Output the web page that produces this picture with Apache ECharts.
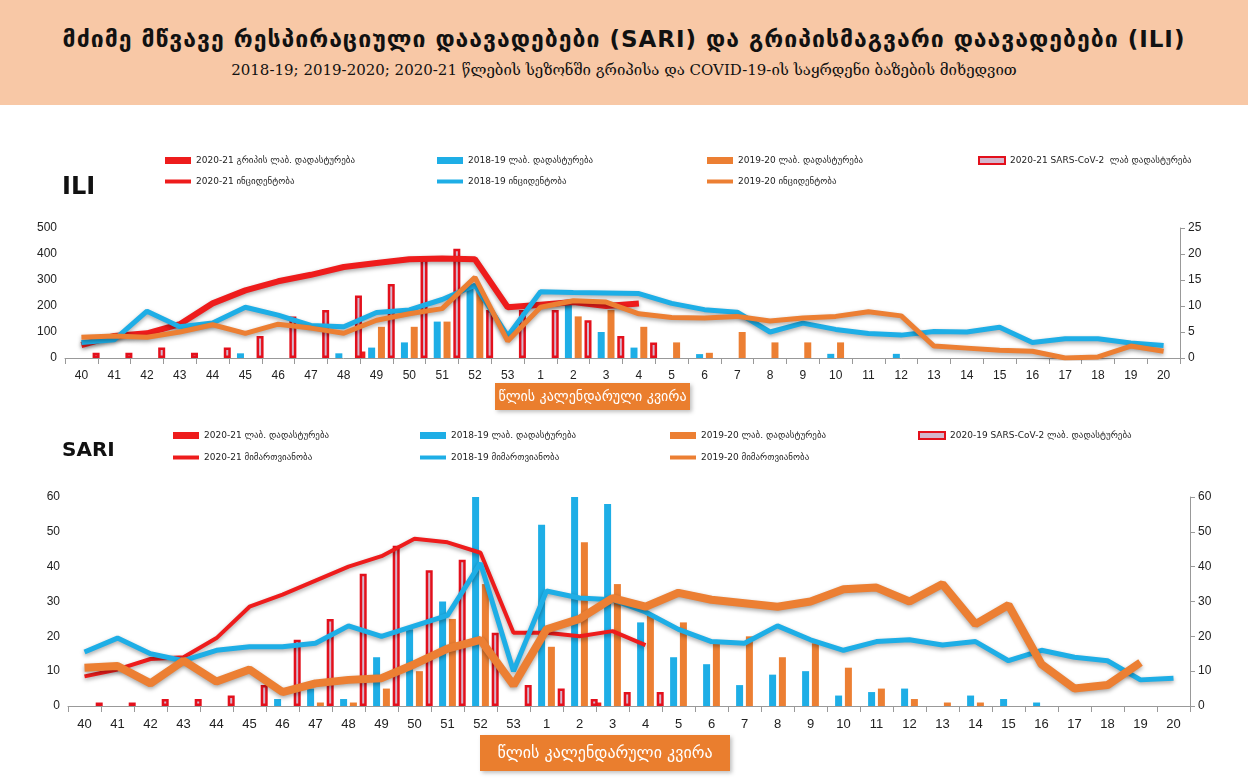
<!DOCTYPE html>
<html lang="ka">
<head>
<meta charset="UTF-8">
<title>ILI / SARI</title>
<script src="https://cdn.jsdelivr.net/npm/echarts@6/dist/echarts.min.js"></script>
<style>
  body{margin:0;width:1248px;height:779px;background:#fff;font-family:"DejaVu Sans",sans-serif;position:relative;overflow:hidden}
  #head{position:absolute;left:0;top:0;width:1248px;height:105px;background:#f8c8a6;text-align:center}
  #head h1{margin:0;padding-top:26px;font-size:23px;font-weight:bold;letter-spacing:1px;color:#111}
  #head p{margin:9px 0 0 0;font-size:15px;color:#111;font-family:"DejaVu Serif",serif}
  .tag{position:absolute;font-weight:bold;font-size:24px;color:#111}
  .box{position:absolute;background:#ea7e2e;color:#fff;text-align:center;font-size:14px;box-shadow:2px 2px 4px rgba(0,0,0,.25)}
</style>
</head>
<body>
<div id="head">
  <h1>მძიმე მწვავე რესპირაციული დაავადებები (SARI) და გრიპისმაგვარი დაავადებები (ILI)</h1>
  <p>2018-19; 2019-2020; 2020-21 წლების სეზონში გრიპისა და COVID-19-ის საყრდენი ბაზების მიხედვით</p>
</div>
<div id="ili" style="position:absolute;left:0;top:140px;width:1248px;height:285px"></div>
<div id="sari" style="position:absolute;left:0;top:420px;width:1248px;height:359px"></div>
<div class="tag" style="left:62px;top:172px">ILI</div>
<div class="tag" style="left:62px;top:437px;font-size:20px">SARI</div>
<div class="box" style="left:495px;top:383px;width:195px;height:27px;line-height:27px">წლის კალენდარული კვირა</div>
<div class="box" style="left:480px;top:735px;width:250px;height:36px;line-height:36px;font-size:16px">წლის კალენდარული კვირა</div>
<script type="text/javascript">
var weeks = ['40','41','42','43','44','45','46','47','48','49','50','51','52','53','1','2','3','4','5','6','7','8','9','10','11','12','13','14','15','16','17','18','19','20'];

// ILI - bars (left axis), lines (right axis)
var iliLab2021 = [0,0,0,0,0,0,0,0,0,25,0,0,0,0,0,0,0,0];
var iliLab1819 = [0,0,0,0,0,18,0,0,18,40,60,140,270,0,0,205,100,40,0,15,0,0,0,16,0,16,0,0,0,0,0,0,0,0];
var iliLab1920 = [0,0,0,0,0,0,0,0,0,120,120,140,265,0,0,160,185,120,60,20,100,60,60,60,0,0,0,0,0,0,0,0,0,0];
var iliCov = [20,20,40,20,40,85,160,185,240,285,380,420,185,185,185,145,85,60];
var iliInc2021 = [2.5,4.25,4.75,6.5,10.5,13,14.75,16,17.5,18.25,19,19.15,19,9.75,10.25,10.75,10,10.5];
var iliInc1819 = [3,3.5,9,6,6.75,9.75,8.25,6.25,6,8.75,9.25,11.25,14,4.25,12.75,12.6,12.5,12.4,10.5,9.3,8.8,5,6.7,5.5,4.7,4.4,5.1,5,5.9,3,3.7,3.7,2.9,2.4];
var iliInc1920 = [4,4.25,4,5,6.4,4.75,6.5,5.75,4.75,7.25,8.5,9.5,15.5,3.25,9.75,11,10.75,8.5,7.8,7.7,8,7.1,7.7,8,8.9,8.1,2.3,1.9,1.5,1.3,0,0.2,2.3,1.3];

// SARI
var sariLab2021 = [0,0,0,0,0,0,0,0,0,0,0,0,0,0,0,0,1,0];
var sariLab1819 = [0,0,0,0,0,0,2,5,2,14,22,30,60,0,52,60,58,24,14,12,6,9,10,3,4,5,0,3,2,1,0,0,0,0];
var sariLab1920 = [0,0,0,0,0,0,0,1,1,5,10,25,35,0,17,47,35,26,24,18,20,14,18,11,5,2,1,1,0,0,0,0,0,0];
var sariCov = [1,1,2,2,3,6,19,25,38,46,39,42,21,6,5,2,4,4];
var sariRef2021 = [8.5,10.5,13.5,14,19.5,28.5,32,36,40,43,48,47,44,21,21,20,21.5,17.5];
var sariRef1819 = [15.5,19.5,15,13,16,17,17,18,23,20,23,26,41,10,33,31,30.5,27,22,18.5,18,23,19,16,18.5,19,17.5,18.5,13,16,14,13,7.5,8];
var sariRef1920 = [11,11.5,6.5,13,7,10.5,4,6.5,7.5,8,12,16.5,19,6,22,25,31,28.5,32.5,30.5,29.5,28.5,30,33.5,34,30,35,23.5,29,12,5,6,12.5];

var RED = '#ee1c1c', BLUE = '#1eaee6', ORANGE = '#ec7f33';
var zeroNull = a => a.map(v => v === 0 ? null : v);

function legendItem(name, left, top, icon) {
    return {left: left, top: top, itemWidth: 26, itemHeight: icon === 'line' ? 4 : 7,
        icon: 'rect', data: [name], padding: 0,
        textStyle: {fontSize: 9, color: '#222', fontFamily: 'DejaVu Sans'}};
}

function build(cfg) {
    var bar = (name, data, color, extra) => Object.assign({
        name: name, type: 'bar', data: zeroNull(data), barWidth: 7, barGap: '40%',
        itemStyle: {color: color}
    }, extra || {});
    var line = (name, data, color, w) => ({
        name: name, type: 'line', yAxisIndex: 1, data: data, symbol: 'none', z: 5,
        lineStyle: {color: color, width: w, shadowColor: 'rgba(0,0,0,0.35)', shadowBlur: 4, shadowOffsetY: 2},
        itemStyle: {color: color}
    });
    var n = cfg.names;
    return {
        animation: false,
        legend: [
            legendItem(n[0], cfg.lx[0], cfg.ly[0]), legendItem(n[1], cfg.lx[1], cfg.ly[0]),
            legendItem(n[2], cfg.lx[2], cfg.ly[0]), legendItem(n[3], cfg.lx[3], cfg.ly[0]),
            legendItem(n[4], cfg.lx[0], cfg.ly[1], 'line'), legendItem(n[5], cfg.lx[1], cfg.ly[1], 'line'),
            legendItem(n[6], cfg.lx[2], cfg.ly[1], 'line')
        ],
        grid: cfg.grid,
        xAxis: {type: 'category', data: weeks,
            axisLine: {lineStyle: {color: '#999'}}, axisTick: {show: true, length: 6, lineStyle: {color: '#999'}},
            axisLabel: {color: '#222', fontSize: cfg.xfont, margin: 12}},
        yAxis: [
            {type: 'value', min: 0, max: cfg.lmax, interval: cfg.lint, splitLine: {show: false},
             axisLabel: {color: '#222', fontSize: 12}},
            {type: 'value', min: 0, max: cfg.rmax, interval: cfg.rint, splitLine: {show: false},
             axisLine: {show: true, lineStyle: {color: '#999'}}, axisTick: {show: true, lineStyle: {color: '#999'}},
             axisLabel: {color: '#222', fontSize: 12}}
        ],
        series: [
            bar(n[0], cfg.b0, RED),
            bar(n[1], cfg.b1, BLUE),
            bar(n[2], cfg.b2, ORANGE),
            bar(n[3], cfg.b3, '#d4b6cc', {itemStyle: {color: '#d4b6cc', borderColor: '#e3101c', borderWidth: 2.5}}),
            line(n[4], cfg.l0, RED, cfg.w[0]),
            line(n[5], cfg.l1, BLUE, cfg.w[1]),
            line(n[6], cfg.l2, ORANGE, cfg.w[2])
        ]
    };
}

var iliChart = echarts.init(document.getElementById('ili'));
iliChart.setOption(build({
    names: ['2020-21 გრიპის ლაბ. დადასტურება', '2018-19 ლაბ. დადასტურება', '2019-20 ლაბ. დადასტურება',
            '2020-21 SARS-CoV-2  ლაბ დადასტურება', '2020-21 ინციდენტობა', '2018-19 ინციდენტობა', '2019-20 ინციდენტობა'],
    lx: [165, 437, 707, 978], ly: [16, 37],
    grid: {left: 65, right: 68, top: 88, bottom: 67},
    lmax: 500, lint: 100, rmax: 25, rint: 5, xfont: 12,
    b0: iliLab2021, b1: iliLab1819, b2: iliLab1920, b3: iliCov,
    l0: iliInc2021, l1: iliInc1819, l2: iliInc1920, w: [6, 5, 5]
}));

var sariChart = echarts.init(document.getElementById('sari'));
sariChart.setOption(build({
    names: ['2020-21 ლაბ. დადასტურება', '2018-19 ლაბ. დადასტურება', '2019-20 ლაბ. დადასტურება',
            '2020-19 SARS-CoV-2 ლაბ. დადასტურება', '2020-21 მიმართვიანობა', '2018-19 მიმართვიანობა', '2019-20 მიმართვიანობა'],
    lx: [173, 420, 670, 918], ly: [11, 33],
    grid: {left: 68, right: 58, top: 77, bottom: 73},
    lmax: 60, lint: 10, rmax: 60, rint: 10, xfont: 13,
    b0: sariLab2021, b1: sariLab1819, b2: sariLab1920, b3: sariCov,
    l0: sariRef2021, l1: sariRef1819, l2: sariRef1920, w: [4, 5, 8]
}));
</script>
</body>
</html>
